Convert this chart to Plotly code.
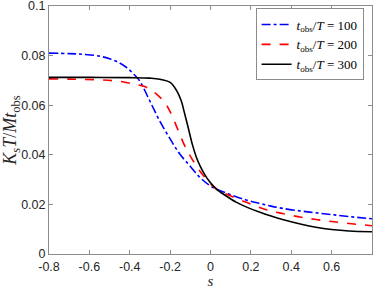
import plotly.graph_objects as go

s_100 = [-0.8, -0.7, -0.63, -0.55, -0.5, -0.45, -0.416, -0.38, -0.351, -0.301, -0.252, -0.2, -0.153, -0.104, -0.054, -0.005, 0.028, 0.094, 0.176, 0.242, 0.3, 0.357, 0.45, 0.522, 0.6, 0.686, 0.8]
k_100 = [0.0810, 0.0808, 0.0805, 0.0798, 0.0787, 0.0770, 0.0752, 0.0725, 0.0698, 0.0618, 0.0537, 0.0464, 0.0404, 0.0357, 0.0310, 0.0277, 0.0262, 0.0241, 0.0218, 0.0204, 0.0193, 0.0184, 0.0173, 0.0166, 0.0159, 0.0151, 0.0142]

s_200 = [-0.8, -0.7, -0.548, -0.45, -0.384, -0.326, -0.277, -0.227, -0.194, -0.161, -0.128, -0.1, -0.054, -0.005, 0.028, 0.094, 0.176, 0.242, 0.283, 0.357, 0.45, 0.522, 0.6, 0.686, 0.8]
k_200 = [0.0706, 0.0705, 0.0702, 0.0696, 0.0686, 0.0675, 0.0651, 0.0611, 0.0564, 0.0500, 0.0437, 0.0395, 0.0336, 0.0288, 0.0263, 0.0236, 0.0209, 0.0188, 0.0177, 0.0163, 0.0148, 0.0139, 0.0131, 0.0123, 0.0114]

s_300 = [-0.8, -0.6, -0.4, -0.3, -0.252, -0.2, -0.167, -0.145, -0.13, -0.11, -0.09, -0.07, -0.05, -0.03, -0.005, 0.028, 0.078, 0.127, 0.176, 0.242, 0.3, 0.357, 0.45, 0.522, 0.6, 0.686, 0.8]
k_300 = [0.0712, 0.0712, 0.0711, 0.0709, 0.0705, 0.0692, 0.0658, 0.0618, 0.0572, 0.0508, 0.0442, 0.0390, 0.0352, 0.0322, 0.0292, 0.0263, 0.0234, 0.0209, 0.0190, 0.0169, 0.0153, 0.0139, 0.0120, 0.0108, 0.0099, 0.0093, 0.0090]

x_ticks = [-0.8, -0.6, -0.4, -0.2, 0, 0.2, 0.4, 0.6]
x_labels = ["-0.8", "-0.6", "-0.4", "-0.2", "0", "0.2", "0.4", "0.6"]
y_ticks = [0, 0.02, 0.04, 0.06, 0.08, 0.1]
y_labels = ["0", "0.02", "0.04", "0.06", "0.08", "0.1"]

names = ["<i>t</i><sub>obs</sub>/<i>T</i> = 100",
         "<i>t</i><sub>obs</sub>/<i>T</i> = 200",
         "<i>t</i><sub>obs</sub>/<i>T</i> = 300"]

fig = go.Figure()
fig.add_trace(go.Scatter(x=s_100, y=k_100, mode="lines", name=names[0],
                         line=dict(color="#0000ff", width=1.6, dash="dashdot", shape="spline", smoothing=1.0)))
fig.add_trace(go.Scatter(x=s_200, y=k_200, mode="lines", name=names[1],
                         line=dict(color="#ff0000", width=1.6, dash="dash", shape="spline", smoothing=1.0)))
fig.add_trace(go.Scatter(x=s_300, y=k_300, mode="lines", name=names[2],
                         line=dict(color="#000000", width=1.6, shape="spline", smoothing=1.0)))

axis_common = dict(showgrid=False, zeroline=False, showline=True, linecolor="#8c8c8c",
                   linewidth=1, mirror="ticks", ticks="inside", ticklen=4, tickcolor="#8c8c8c",
                   ticklabeloverflow="allow",
                   tickfont=dict(family="Liberation Sans, Arial", size=12.5, color="#262626"))

fig.update_layout(
    width=374, height=289,
    margin=dict(l=49, r=2, t=6, b=35, autoexpand=False),
    paper_bgcolor="white", plot_bgcolor="white",
    xaxis=dict(range=[-0.8, 0.8], tickvals=x_ticks, ticktext=x_labels, ticklabelstandoff=1,
               title=dict(text="<i>s</i>", font=dict(family="Liberation Serif, serif", size=15, color="#262626"), standoff=0),
               automargin=False, **axis_common),
    yaxis=dict(range=[0, 0.1], tickvals=y_ticks, ticktext=y_labels,
               title=dict(text="<i>K<sub>s</sub>T</i>/<i>Mt</i><sub>obs</sub>", font=dict(family="Liberation Serif, serif", size=18, color="#262626"), standoff=4),
               automargin=False, **axis_common),
    legend=dict(x=0.974, y=0.99, xanchor="right", yanchor="top",
                bgcolor="white", bordercolor="#8c8c8c", borderwidth=1,
                font=dict(family="Liberation Serif, serif", size=13, color="#000000"),
                itemwidth=30, tracegroupgap=0),
    showlegend=True,
)

fig.write_html("out.html", config={"displayModeBar": False},
               post_script="document.body.style.margin='0';")
